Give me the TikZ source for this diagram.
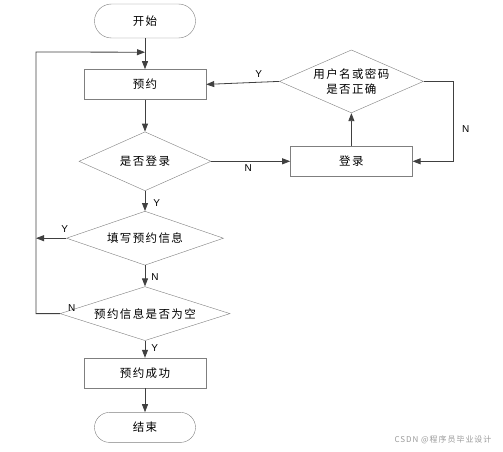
\documentclass[tikz,border=0pt]{standalone}
\usepackage{fontspec}
\setmainfont{Liberation Sans}
\newfontfamily\cjk[LetterSpace=12]{Noto Sans CJK SC}
\usetikzlibrary{arrows.meta,positioning,shapes.geometric}
\definecolor{edge}{HTML}{404040}
\definecolor{frame}{HTML}{7F7F7F}
\tikzset{box/.style={draw=frame,fill=white,align=center,font=\cjk\fontsize{11.5}{14}\selectfont,inner sep=1pt,minimum width=122pt,minimum height=30pt}, term/.style={box,rounded corners=15pt,minimum width=101pt}, decision/.style={diamond,draw=frame,fill=white,align=center,font=\cjk\fontsize{11.5}{15}\selectfont,inner sep=0pt}, flow/.style={-{Triangle[length=8pt,width=6pt]},draw=edge,line width=0.8pt}, lbl/.style={font=\fontsize{10}{11}\selectfont,inner sep=2pt}}

\begin{document}
\begin{tikzpicture}[x=1pt,y=-1pt]
\useasboundingbox (0,0) rectangle (503,452);
\node[term,minimum height=34pt,rounded corners=17pt] (start) at (145,21) {开始};
\node[box,below=31pt of start] (book) {预约};
\node[decision,aspect=2.24,minimum width=132pt,minimum height=59pt,below=32pt of book] (islogged) {是否登录};
\node[box,right=79pt of islogged] (login) {登录};
\node[decision,aspect=2.3,minimum width=144pt,minimum height=63pt,above=33pt of login] (check) {用户名或密码\\是否正确};
\node[decision,aspect=2.9,minimum width=157pt,minimum height=54pt,below=20pt of islogged] (fill) {填写预约信息};
\node[decision,aspect=3.15,minimum width=170pt,minimum height=54pt,below=21pt of fill] (empty) {预约信息是否为空};
\node[box,below=17pt of empty] (done) {预约成功};
\node[term,below=24pt of done] (stop) {结束};
\node[font=\cjk\fontsize{8}{9}\selectfont,text=black!40] (mark) at (443,440) {CSDN @程序员毕业设计};
\path (start.south) ++(0,14) coordinate (jn);
\coordinate (lx) at (36,52);
\draw[flow] (start) -- (book);
\draw[flow] (book) -- (islogged);
\draw[flow] (islogged) -- node[lbl,below=1pt,pos=.47]{N} (login);
\draw[flow] (login) -- (check);
\draw[flow] (check.west) -- node[lbl,above=2pt,pos=.28]{Y} (book.east);
\draw[flow] (check.east) -- ++(30,0) |- node[lbl,right=6pt,pos=.3]{N} (login.east);
\draw[flow] (islogged) -- node[lbl,right=6pt,pos=.6]{Y} (fill);
\draw[flow] (fill.west) -- node[lbl,above=3pt,pos=.05]{Y} (fill.west -| lx);
\draw[flow] (fill) -- node[lbl,right=4pt,pos=.55]{N} (empty);
\draw[flow] (empty.west) -- (empty.west -| lx) -- (lx) -- (jn);
\node[lbl,above right=0pt and 6pt of empty.west] (nlbl) {N};
\draw[flow] (empty) -- node[lbl,right=4pt,pos=.45]{Y} (done);
\draw[flow] (done) -- (stop);
\end{tikzpicture}
\end{document}
